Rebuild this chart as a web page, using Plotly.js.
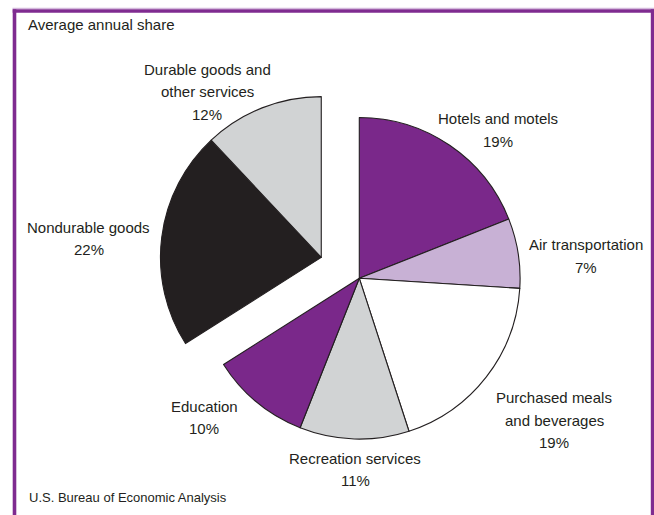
<!DOCTYPE html>
<html><head><meta charset="utf-8">
<script src="https://cdn.plot.ly/plotly-3.0.1.min.js"></script>
<style>html,body{margin:0;padding:0;background:#fff}#chart{width:654px;height:515px}</style>
</head><body><div id="chart"></div>
<script>
// ---- data ----
const categories = ["Hotels and motels", "Air transportation", "Purchased meals and beverages",
  "Recreation services", "Education", "Nondurable goods", "Durable goods and other services"];
const shares = [19, 7, 19, 11, 10, 22, 12];
const pulledOut = [false, false, false, false, false, true, true];
const labelLines = [["Hotels and motels"], ["Air transportation"], ["Purchased meals", "and beverages"],
  ["Recreation services"], ["Education"], ["Nondurable goods"], ["Durable goods and", "other services"]];
const subtitle = "Average annual share";
const sourceNote = "U.S. Bureau of Economic Analysis";

// ---- styles / layout constants ----
const W = 654, H = 515;
const sliceColors = ["#7a288a", "#c8b1d5", "#ffffff", "#d1d3d4", "#7a288a", "#231f20", "#d1d3d4"];
const labelPos = [[498, 130], [585.5, 256], [554, 420], [355, 469.5], [204, 417.5], [88.5, 238.5], [207, 91.7]];
const lineH = 22.5;
const cx = 359.3, cy = 278.3, R = 160.8, pullDist = 43.4;
const textColor = "#231f20";
const fontFam = "Liberation Sans, Arial, Helvetica, sans-serif";
const purple = "#7f2b90";

// direction of pulled group (bisector of the pulled slices, clockwise from 12 o'clock)
const total = shares.reduce((a, b) => a + b, 0);
let cum = 0, pStart = null, pEnd = null;
shares.forEach((v, i) => {
  if (pulledOut[i]) { if (pStart === null) pStart = cum; pEnd = cum + v; }
  cum += v;
});
const midAng = ((pStart + pEnd) / 2 / total) * 2 * Math.PI;
const px = cx + pullDist * Math.sin(midAng);
const py = cy - pullDist * Math.cos(midAng);

function domainFor(x, y) {
  return { x: [(x - R) / W, (x + R) / W], y: [(H - y - R) / H, (H - y + R) / H] };
}

function pieTrace(showPulled, dom) {
  const vis = pulledOut.map(p => p === showPulled);
  return {
    type: "pie",
    labels: categories,
    values: shares,
    sort: false,
    direction: "clockwise",
    rotation: 0,
    textinfo: "none",
    hoverinfo: "label+percent",
    showlegend: false,
    domain: dom,
    marker: {
      colors: sliceColors.map((c, i) => vis[i] ? c : "rgba(0,0,0,0)"),
      line: { color: "#231f20", width: vis.map(v => v ? 1.1 : 0) }
    }
  };
}

const data = [pieTrace(false, domainFor(cx, cy)), pieTrace(true, domainFor(px, py))];

const annotations = [];
labelLines.forEach((lines, i) => {
  const all = lines.concat([shares[i] + "%"]);
  const [lx, ly] = labelPos[i];
  all.forEach((t, j) => {
    const yy = ly + (j - (all.length - 1) / 2) * lineH;
    annotations.push({
      xref: "paper", yref: "paper", x: lx / W, y: 1 - yy / H,
      xanchor: "center", yanchor: "middle", showarrow: false,
      text: t, font: { family: fontFam, size: 15, color: textColor }
    });
  });
});
annotations.push({ xref: "paper", yref: "paper", x: 26 / W, y: 1 - 25 / H, xanchor: "left", yanchor: "middle",
  showarrow: false, text: subtitle, font: { family: fontFam, size: 15, color: textColor } });
annotations.push({ xref: "paper", yref: "paper", x: 27 / W, y: 1 - 497.7 / H, xanchor: "left", yanchor: "middle",
  showarrow: false, text: sourceNote, font: { family: fontFam, size: 13, color: textColor } });

const shapes = [
  { type: "line", xref: "paper", yref: "paper", x0: 12.5 / W, x1: 1, y0: 1 - 8.3 / H, y1: 1 - 8.3 / H, line: { color: "#caa8d4", width: 1 } },
  { type: "line", xref: "paper", yref: "paper", x0: 12.7 / W, x1: 1, y0: 1 - 11 / H, y1: 1 - 11 / H, line: { color: purple, width: 3.4 } },
  { type: "line", xref: "paper", yref: "paper", x0: 14.5 / W, x1: 14.5 / W, y0: 1 - 9.3 / H, y1: 0, line: { color: purple, width: 3.6 } },
  { type: "line", xref: "paper", yref: "paper", x0: 652.5 / W, x1: 652.5 / W, y0: 1 - 9.3 / H, y1: 0, line: { color: purple, width: 3.4 } }
];

const layout = {
  width: W, height: H,
  margin: { l: 0, r: 0, t: 0, b: 0, pad: 0 },
  paper_bgcolor: "#ffffff",
  plot_bgcolor: "#ffffff",
  showlegend: false,
  annotations: annotations,
  shapes: shapes
};

Plotly.newPlot("chart", data, layout, { displayModeBar: false, staticPlot: true });
</script>
</body></html>
